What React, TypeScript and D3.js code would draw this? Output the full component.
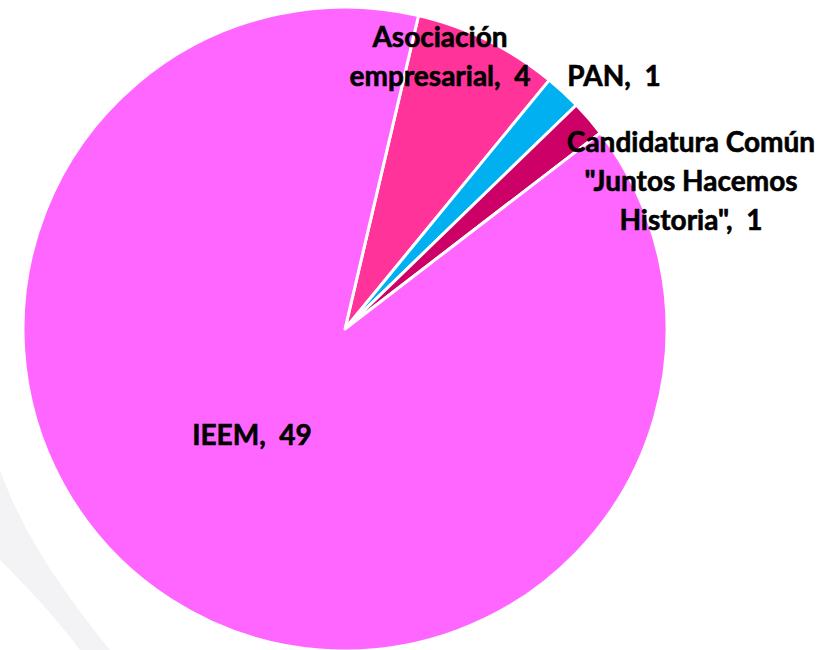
import React, { useEffect, useRef } from "react";
import * as d3 from "d3";

const categories = ["Asociación empresarial", "PAN", 'Candidatura Común "Juntos Hacemos Historia"', "IEEM"];
const values = [4, 1, 1, 49];
const colors = ["#FF3399", "#00B0F0", "#CC0066", "#FF66FF"];
const labelLines = [
  ["Asociación", "empresarial,  4"],
  ["PAN,  1"],
  ["Candidatura Común", "\"Juntos Hacemos", "Historia\",  1"],
  ["IEEM,  49"],
];
// label anchor positions (centre of the first line's baseline)
const labelPos: [number, number][] = [
  [440, 47],
  [614, 86],
  [691, 152],
  [252, 445],
];

const App = () => {
  const ref = useRef<SVGSVGElement>(null);

  useEffect(() => {
    if (!ref.current) return;
    const svg = d3.select(ref.current);
    svg.selectAll("*").remove();

    const width = 825, height = 650;
    const cx = 345, cy = 329, r = 322;

    // faint background swoosh
    svg.append("path")
      .attr("d", "M0,470 C25,540 70,600 110,650 L80,650 C50,610 20,580 0,560 Z")
      .attr("fill", "#f3f3f6");

    const start = (13.2 * Math.PI) / 180;
    const pie = d3.pie<number>().sort(null).value(d => d)
      .startAngle(start).endAngle(start + 2 * Math.PI);
    const arc = d3.arc<d3.PieArcDatum<number>>().innerRadius(0).outerRadius(r);

    const g = svg.append("g").attr("transform", `translate(${cx},${cy})`);
    g.selectAll("path")
      .data(pie(values))
      .enter()
      .append("path")
      .attr("d", arc)
      .attr("fill", (_, i) => colors[i])
      .attr("stroke", "#fff")
      .attr("stroke-width", 3)
      .attr("stroke-linejoin", "round");

    const lineH = 39;
    labelLines.forEach((lines, i) => {
      const t = svg.append("text")
        .attr("text-anchor", "middle")
        .attr("font-family", "Lato, 'Open Sans', sans-serif")
        .attr("font-weight", "bold")
        .attr("font-size", 28)
        .attr("fill", "#000")
        .attr("stroke", "#000")
        .attr("stroke-width", 0.6)
        .style("white-space", "pre");
      lines.forEach((ln, j) => {
        t.append("tspan")
          .attr("x", labelPos[i][0])
          .attr("y", labelPos[i][1] + j * lineH)
          .text(ln);
      });
    });

    svg.attr("width", width).attr("height", height);
  }, []);

  return (
    <svg
      ref={ref}
      width={825}
      height={650}
      style={{ position: "absolute", left: 0, top: 0 }}
      aria-label={categories.join(", ")}
    />
  );
};

export default App;
